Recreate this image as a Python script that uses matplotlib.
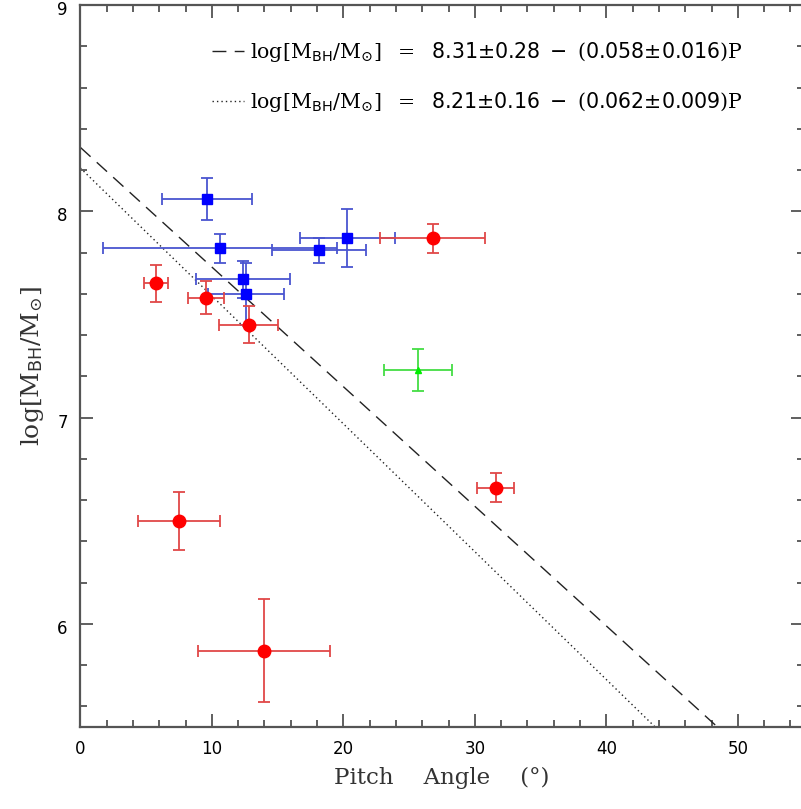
import matplotlib
matplotlib.use("Agg")
import matplotlib.pyplot as plt
import matplotlib.transforms as mtransforms
import numpy as np

# Blue squares
blue_x = [9.63, 10.62, 18.14, 20.3, 12.37, 12.62]
blue_y = [8.06, 7.82, 7.81, 7.87, 7.67, 7.60]
blue_xerr = [3.4, 8.9, 3.6, 3.6, 3.6, 2.9]
blue_yerr = [0.10, 0.07, 0.06, 0.14, 0.09, 0.15]

# Red circles
red_x = [5.75, 9.55, 12.8, 26.8, 31.6, 7.5, 13.98]
red_y = [7.65, 7.58, 7.45, 7.87, 6.66, 6.50, 5.87]
red_xerr = [0.9, 1.37, 2.25, 4.0, 1.4, 3.1, 5.0]
red_yerr = [0.09, 0.08, 0.09, 0.07, 0.07, 0.14, 0.25]

# Green triangle
green_x = [25.7]
green_y = [7.23]
green_xerr = [2.6]
green_yerr = [0.10]

# Fits
fit1_a, fit1_b = 8.31, 0.058
fit2_a, fit2_b = 8.21, 0.062
fit1_label = r'$\mathrm{log[M_{\mathsf{BH}}/M_{\odot}]\ \ =\ \ }\mathsf{8.31{\pm}0.28}\ -\ \mathrm{(}\mathsf{0.058{\pm}0.016}\mathrm{)P}$'
fit2_label = r'$\mathrm{log[M_{\mathsf{BH}}/M_{\odot}]\ \ =\ \ }\mathsf{8.21{\pm}0.16}\ -\ \mathrm{(}\mathsf{0.062{\pm}0.009}\mathrm{)P}$'

plt.rcParams['mathtext.fontset'] = 'custom'
plt.rcParams['mathtext.rm'] = 'DejaVu Serif'
plt.rcParams['mathtext.sf'] = 'DejaVu Sans'
plt.rcParams['mathtext.it'] = 'DejaVu Serif:italic'

fig = plt.figure(figsize=(8.01, 8.09), dpi=100)
ax = fig.add_axes([80.3/801, 1-727/809, 723.3/801, 722/809])

xx = np.linspace(0, 55, 200)
ax.plot(xx, fit1_a - fit1_b*xx, color='#222222', lw=1.0, ls=(0, (10, 6)), label=fit1_label)
ax.plot(xx, fit2_a - fit2_b*xx, color='#222222', lw=1.0, ls=(0, (1, 2.2)), label=fit2_label)

ax.errorbar(blue_x, blue_y, xerr=blue_xerr, yerr=blue_yerr, fmt='s', color='#0000ff',
            ecolor='#4a55d0', elinewidth=1.3, capsize=4, capthick=1.3, ms=7, mec='#0000ff', zorder=3)
ax.errorbar(red_x, red_y, xerr=red_xerr, yerr=red_yerr, fmt='o', color='#ff0000',
            ecolor='#e04848', elinewidth=1.3, capsize=4, capthick=1.3, ms=9, mec='#ff0000', zorder=3)
ax.errorbar(green_x, green_y, xerr=green_xerr, yerr=green_yerr, fmt='^', color='#00ee00',
            ecolor='#44dd44', elinewidth=1.3, capsize=4, capthick=1.3, ms=5, mec='#00ee00', zorder=3)

ax.set_xlim(0, 55)
ax.set_ylim(5.5, 9)
ax.set_xticks([0, 10, 20, 30, 40, 50])
ax.set_xticks(np.arange(0, 55.1, 2), minor=True)
ax.set_yticks([6, 7, 8, 9])
ax.set_yticks(np.arange(5.6, 9.01, 0.2), minor=True)
ax.tick_params(which='both', direction='in', top=True, right=True, color='#444444', width=1.2)
ax.tick_params(which='major', length=9.5, labelsize=12, pad=9)
ax.tick_params(which='minor', length=5)
for s in ax.spines.values():
    s.set_color('#555555')
    s.set_linewidth(1.6)

off = mtransforms.ScaledTranslation(0, -3/100, fig.dpi_scale_trans)
for lbl in ax.get_yticklabels():
    lbl.set_transform(lbl.get_transform() + off)

ax.set_xlabel('Pitch\u2003 Angle\u2003 (°)', family='DejaVu Serif', fontsize=16.5, color='#333333', labelpad=7)
ax.set_ylabel(r'$\mathrm{log[M_{\mathsf{BH}}/M_{\odot}]}$', fontsize=18, color='#333333', labelpad=8)

leg = ax.legend(loc='upper left', bbox_to_anchor=(0.157, 0.977), frameon=False, fontsize=14.8,
                handlelength=1.55, handletextpad=0.3, labelspacing=1.25)

fig.savefig('out.png', dpi=100)
